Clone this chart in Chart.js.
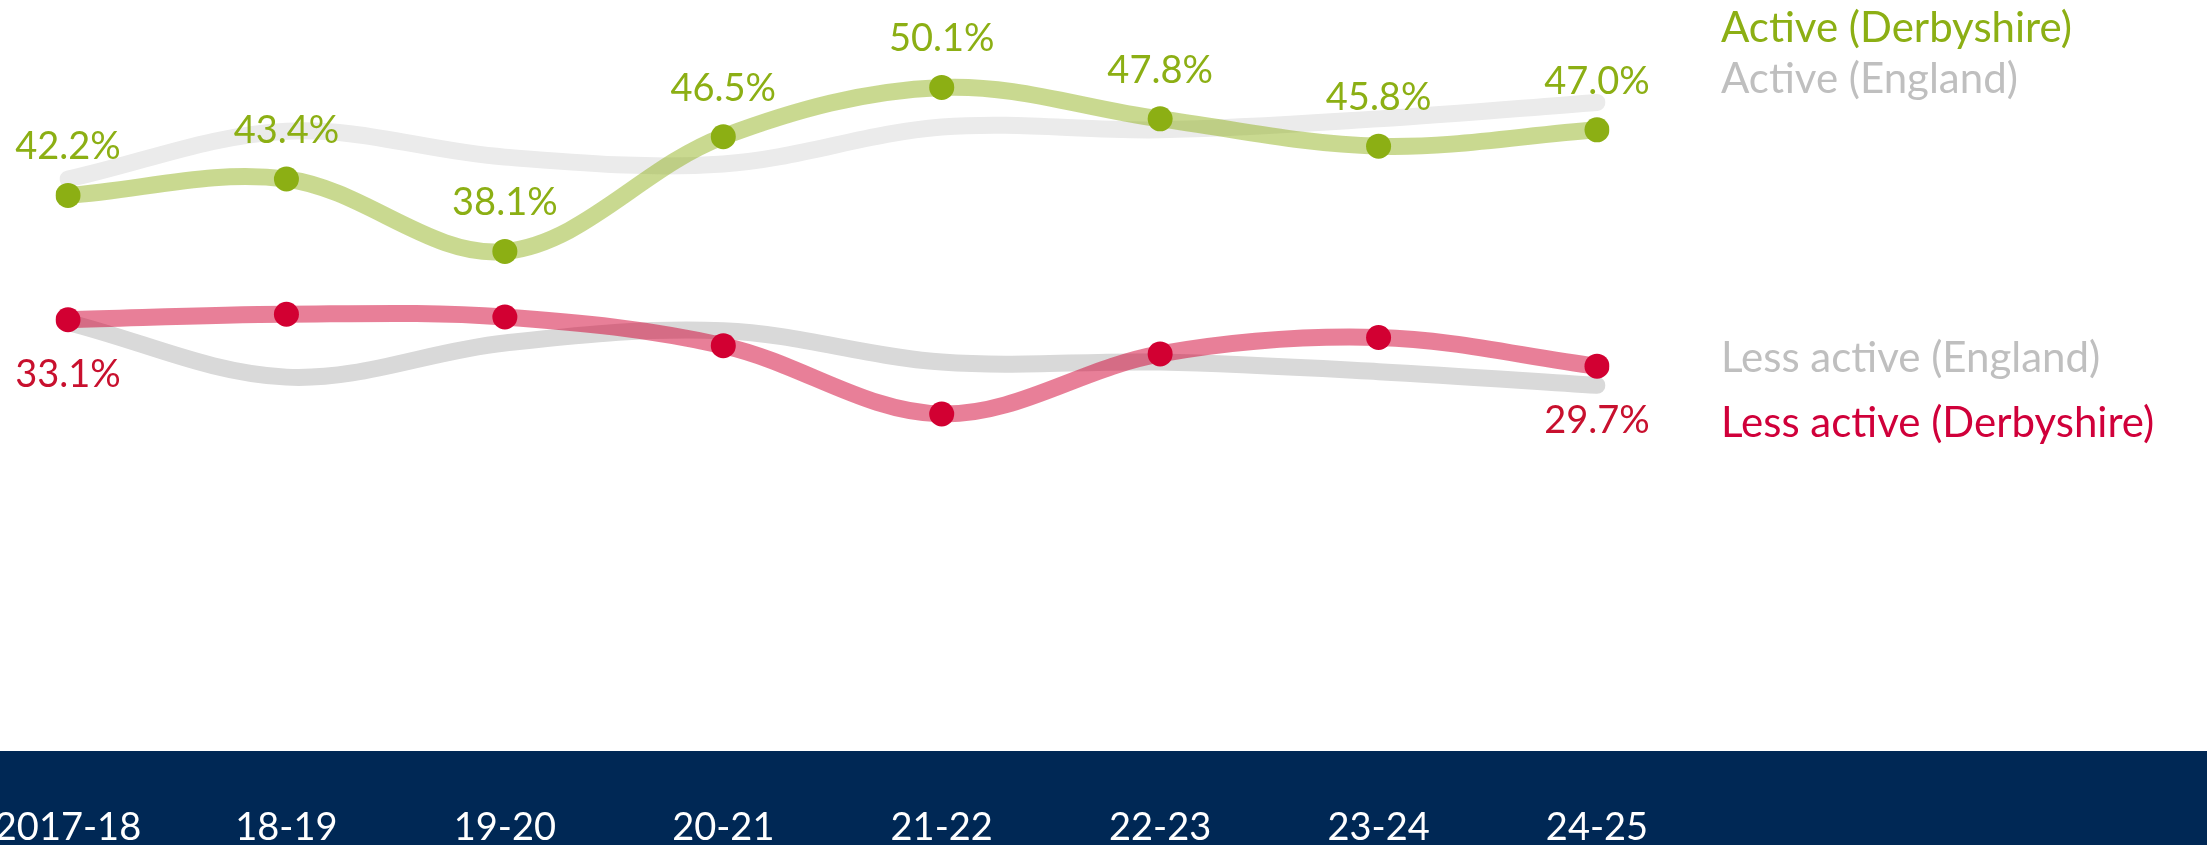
<!DOCTYPE html>
<html>
<head>
<meta charset="utf-8">
<script src="https://cdn.jsdelivr.net/npm/chart.js@4.4.1/dist/chart.umd.min.js"></script>
<style>
html, body { margin: 0; padding: 0; overflow: hidden; background: #fff; }
#wrap { position: relative; width: 2207px; height: 845px; }
</style>
</head>
<body>
<div id="wrap"><canvas id="myChart"></canvas></div>
<script>
// data
const years = ['2017-18', '18-19', '19-20', '20-21', '21-22', '22-23', '23-24', '24-25'];
const activeDerbyshire = [42.2, 43.4, 38.1, 46.5, 50.1, 47.8, 45.8, 47.0];
const lessActiveDerbyshire = [33.1, 33.5, 33.3, 31.2, 26.2, 30.6, 31.8, 29.7];
const activeEngland = [43.4, 46.9, 45.0, 44.5, 47.2, 47.0, 47.8, 49.0];
const lessActiveEngland = [32.9, 28.9, 31.4, 32.3, 30.0, 30.0, 29.3, 28.3];
const seriesNames = ['Active (Derbyshire)', 'Less active (Derbyshire)', 'Active (England)', 'Less active (England)'];

const green = '#8caf14';
const red = '#d20032';
const FONT = 'Lato, "Open Sans", sans-serif';

// navy strip behind the year labels
const bandPlugin = {
    id: 'band',
    beforeDraw(chart) {
        const ctx = chart.ctx;
        ctx.save();
        ctx.fillStyle = '#002855';
        ctx.fillRect(0, 751, chart.width, chart.height - 751);
        ctx.restore();
    }
};

// value labels and the right hand legend
const textPlugin = {
    id: 'texts',
    afterDatasetsDraw(chart) {
        const ctx = chart.ctx;
        ctx.save();
        ctx.font = '38px ' + FONT;
        ctx.textAlign = 'center';
        ctx.textBaseline = 'alphabetic';

        const g = chart.getDatasetMeta(0).data;
        ctx.fillStyle = green;
        g.forEach((pt, i) => {
            ctx.fillText(activeDerbyshire[i].toFixed(1) + '%', pt.x, pt.y - 36);
        });

        const r = chart.getDatasetMeta(1).data;
        ctx.fillStyle = '#c8102e';
        [0, r.length - 1].forEach(i => {
            ctx.fillText(lessActiveDerbyshire[i].toFixed(1) + '%', r[i].x, r[i].y + 67);
        });

        ctx.font = '42px ' + FONT;
        ctx.textAlign = 'left';
        const legend = [
            [seriesNames[0], green, 42],
            [seriesNames[2], '#bfbfbf', 93],
            [seriesNames[3], '#bfbfbf', 372],
            [seriesNames[1], '#d0003a', 437]
        ];
        legend.forEach(l => {
            ctx.fillStyle = l[1];
            ctx.fillText(l[0], 1721, l[2]);
        });
        ctx.restore();
    }
};

const own = new Chart(document.getElementById('myChart'), {
    type: 'line',
    data: {
        labels: years,
        datasets: [
            {
                label: seriesNames[0],
                data: activeDerbyshire,
                borderColor: 'rgba(140,175,20,0.47)',
                pointBackgroundColor: green,
                pointRadius: 12.5,
                order: 1
            },
            {
                label: seriesNames[1],
                data: lessActiveDerbyshire,
                borderColor: 'rgba(210,0,50,0.5)',
                pointBackgroundColor: red,
                pointRadius: 12.5,
                order: 2
            },
            {
                label: seriesNames[2],
                data: activeEngland,
                borderColor: '#ebebeb',
                pointRadius: 0,
                order: 3
            },
            {
                label: seriesNames[3],
                data: lessActiveEngland,
                borderColor: '#d9d9d9',
                pointRadius: 0,
                order: 4
            }
        ]
    },
    options: {
        responsive: true,
        maintainAspectRatio: false,
        animation: false,
        events: [],
        layout: { autoPadding: false, padding: { left: 68, right: 610, top: 0, bottom: 0 } },
        elements: {
            line: { borderWidth: 17, tension: 0.35, borderCapStyle: 'round', borderJoinStyle: 'round', fill: false },
            point: { borderWidth: 0, hoverRadius: 12.5 }
        },
        plugins: {
            legend: { display: false },
            tooltip: { enabled: false }
        },
        scales: {
            x: {
                offset: false,
                grid: { display: false, drawTicks: false },
                border: { display: false },
                ticks: {
                    color: '#ffffff',
                    font: { family: FONT, size: 38 },
                    padding: 33,
                    maxRotation: 0,
                    autoSkip: false
                },
                afterFit(scale) {
                    scale.height = 73;
                    scale.paddingLeft = 0;
                    scale.paddingRight = 0;
                }
            },
            y: {
                display: false,
                min: 0,
                max: 56.5
            }
        }
    },
    plugins: [bandPlugin, textPlugin]
});
</script>
</body>
</html>
